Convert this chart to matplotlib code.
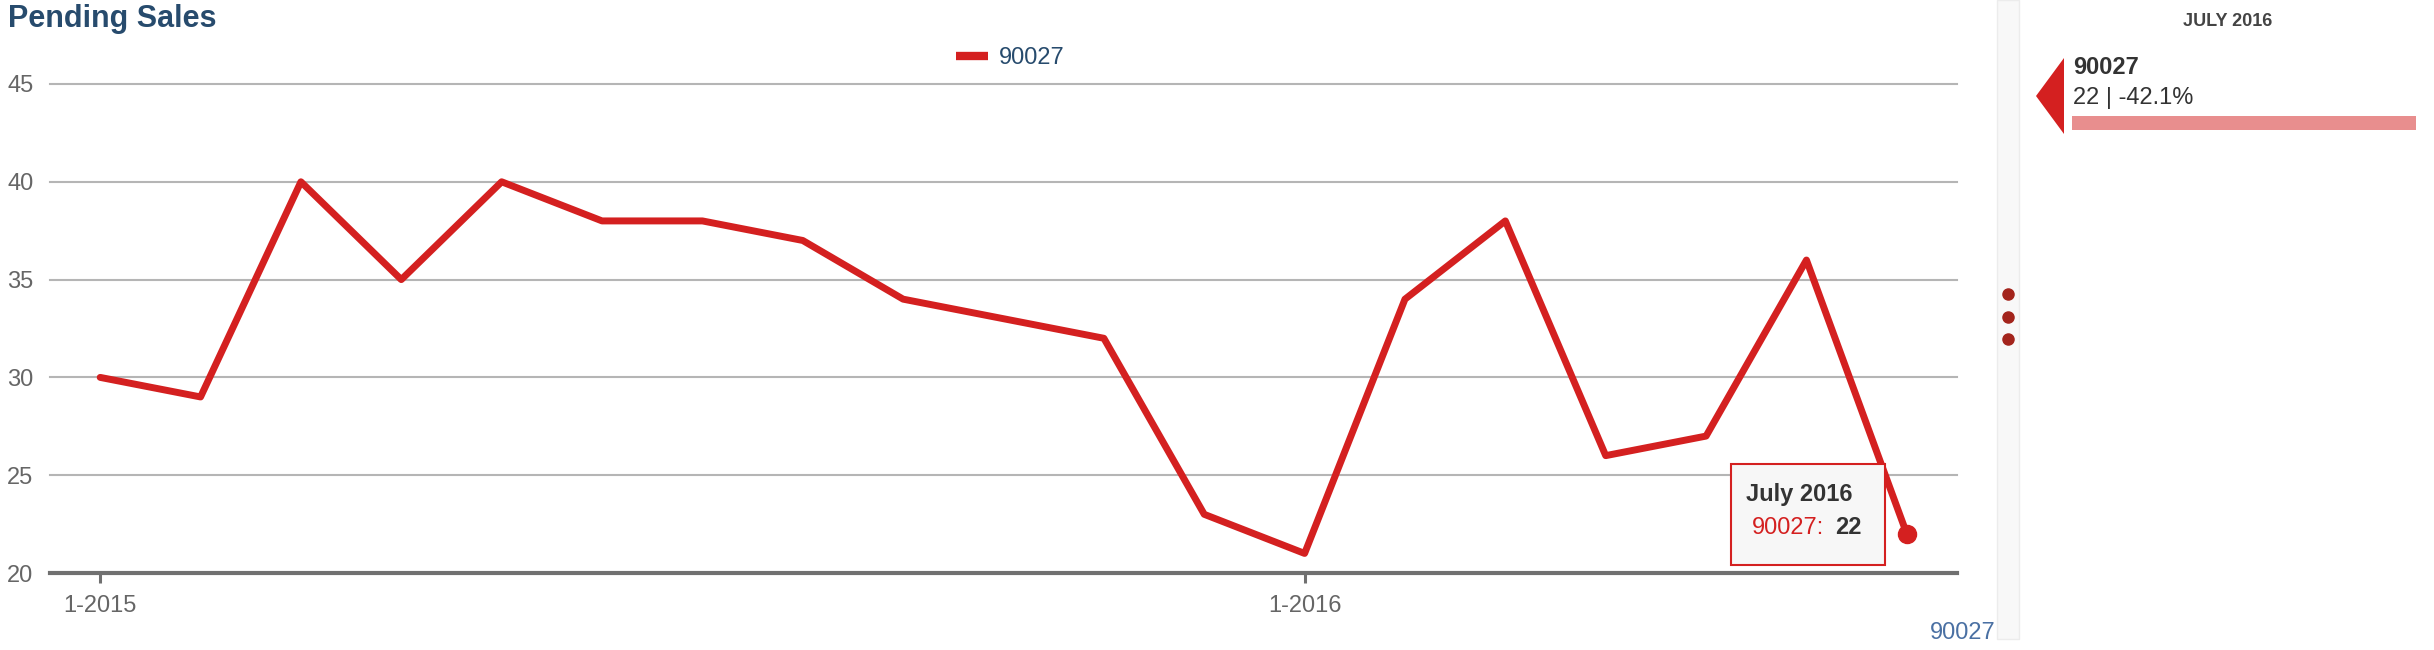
import matplotlib
matplotlib.use("Agg")
import matplotlib.pyplot as plt
from matplotlib.patches import Rectangle, Polygon
from matplotlib.lines import Line2D

plt.rcParams['font.family'] = ['Liberation Sans', 'DejaVu Sans']

# ---- data ----
months = ["1-2015", "2-2015", "3-2015", "4-2015", "5-2015", "6-2015", "7-2015",
          "8-2015", "9-2015", "10-2015", "11-2015", "12-2015", "1-2016", "2-2016",
          "3-2016", "4-2016", "5-2016", "6-2016", "7-2016"]
pending_90027 = [30, 29, 40, 35, 40, 38, 38, 37, 34, 33, 32, 23, 21, 34, 38, 26, 27, 36, 22]
series_name = "90027"
tick_labels = ["1-2015", "1-2016"]
y_ticks = [20, 25, 30, 35, 40, 45]
current_label = "July 2016"
current_value = pending_90027[-1]
yoy_change = "-42.1%"

W, H = 2434, 650
RED = '#d42020'
fig = plt.figure(figsize=(W / 100, H / 100), dpi=100)

# main plot area (pixel bounds)
left_px, right_px = 50, 1957
y20_px, y45_px = 573, 84
ppu = (y20_px - y45_px) / 25.0
top_px = y45_px - 0.6 * ppu
ax = fig.add_axes([left_px / W, 1 - y20_px / H, (right_px - left_px) / W, (y20_px - top_px) / H])
x = list(range(len(months)))
ax.set_xlim(-0.5, len(months) - 0.5)
ax.set_ylim(20, 45.6)

for s in ['top', 'right', 'left']:
    ax.spines[s].set_visible(False)
ax.spines['bottom'].set_color('#707070')
ax.spines['bottom'].set_linewidth(3)
ax.set_yticks(y_ticks)
ax.set_yticklabels([str(v) for v in y_ticks])
ax.tick_params(axis='y', length=0, pad=12, labelsize=17, labelcolor='#666666')
ax.set_xticks([months.index(t) for t in tick_labels])
ax.set_xticklabels(tick_labels)
ax.tick_params(axis='x', length=7, width=2.2, color='#707070', pad=9, labelsize=17, labelcolor='#666666')
for yv in y_ticks[1:]:
    ax.axhline(yv, color='#b5b5b5', lw=1.5, zorder=1, clip_on=False)

ax.plot(x, pending_90027, color=RED, lw=5, solid_joinstyle='round', solid_capstyle='round', zorder=3)
ax.plot(x[-1], pending_90027[-1], 'o', ms=13, color=RED, zorder=4)

# legend
h = Line2D([], [], color=RED, lw=6, solid_capstyle='butt')
leg = fig.legend([h], [series_name], loc='center left', bbox_to_anchor=(956 / W, 1 - 58 / H),
                 frameon=False, fontsize=17, handlelength=1.35, handletextpad=0.45,
                 borderpad=0, borderaxespad=0)
for t in leg.get_texts():
    t.set_color('#274b6d')

# overlay in pixel coordinates
ov = fig.add_axes([0, 0, 1, 1], zorder=5)
ov.set_xlim(0, W)
ov.set_ylim(H, 0)
ov.axis('off')

ov.text(8, 19, "Pending Sales", fontsize=22, fontweight='bold', color='#274b6d', va='center', ha='left')

# tooltip
ov.add_patch(Rectangle((1731, 464), 154, 101, fc='#f7f7f7', ec=RED, lw=1.5))
ov.text(1746, 494, current_label, fontsize=17, fontweight='bold', color='#333333', va='center', ha='left')
ov.text(1752, 528, series_name + ":", fontsize=17, color=RED, va='center', ha='left')
ov.text(1835, 528, str(current_value), fontsize=17, fontweight='bold', color='#333333', va='center', ha='left')

# bottom label
ov.text(1996, 633, series_name, fontsize=17, color='#4a70a3', va='center', ha='right')

# scroll strip
ov.add_patch(Rectangle((1997, 0), 22, 639, fc='#f8f8f8', ec='#ececec', lw=1))
for yy in (294, 317, 339):
    ov.plot(2008, yy, 'o', ms=8, color='#a3241c')

# right panel
ov.text(2228, 22, current_label.upper(), fontsize=13, fontweight='bold', color='#444444', va='center', ha='center')
ov.add_patch(Polygon([(2036, 96), (2064, 58), (2064, 134)], closed=True, fc=RED, ec='none'))
ov.text(2073, 68, series_name, fontsize=17, fontweight='bold', color='#333333', va='center', ha='left')
ov.text(2073, 98, f"{current_value} | {yoy_change}", fontsize=17, color='#333333', va='center', ha='left')
ov.add_patch(Rectangle((2072, 116), 344, 14, fc='#e88e8e', ec='none'))

fig.savefig("out.png", dpi=100)
